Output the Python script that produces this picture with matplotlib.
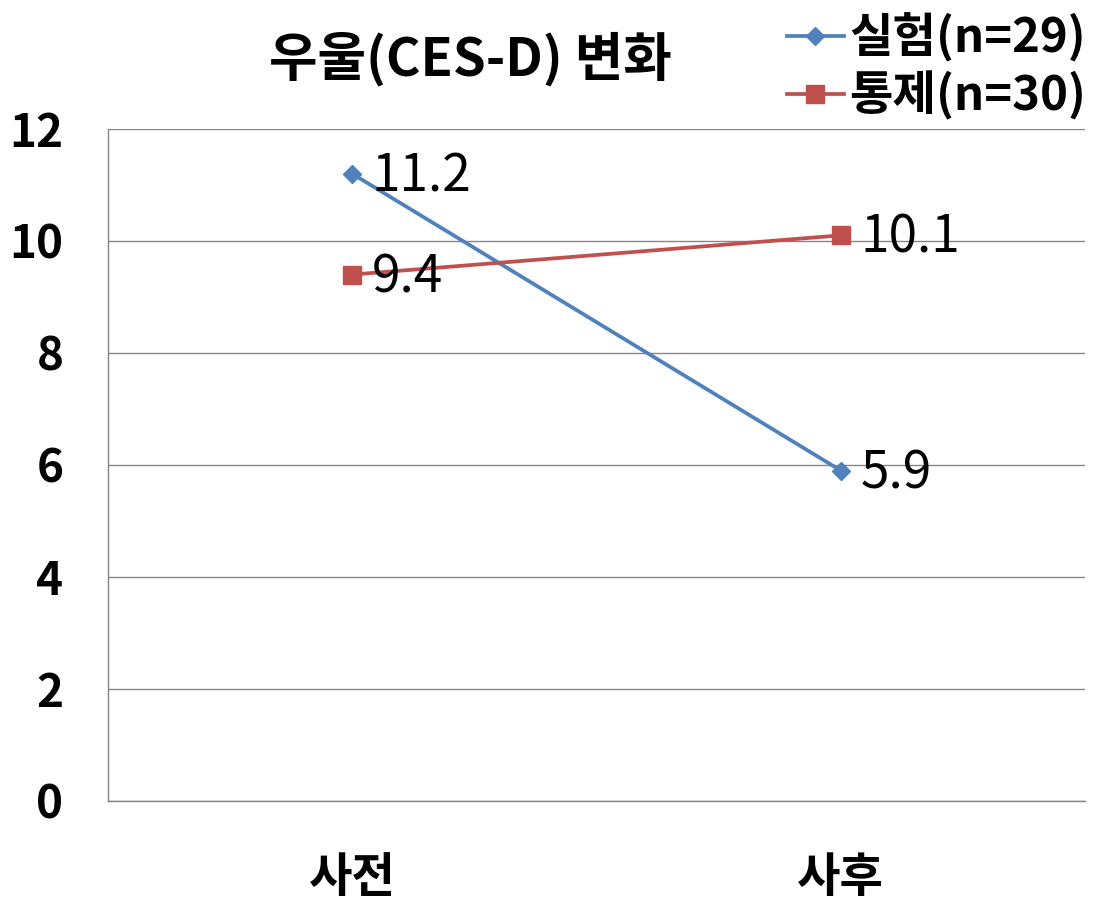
import numpy as np
import matplotlib.pyplot as plt

plt.rcParams['font.family'] = ['Noto Sans CJK KR', 'DejaVu Sans']

# data
categories = ["사전", "사후"]
exp_values = [11.2, 5.9]
ctrl_values = [9.4, 10.1]
exp_label = "실험(n=29)"
ctrl_label = "통제(n=30)"
y_ticks = [0, 2, 4, 6, 8, 10, 12]

fig = plt.figure(figsize=(11.01, 9.05), dpi=100)
ax = fig.add_axes([0.098, 0.115, 0.8875, 0.7425])

x = np.arange(len(categories))
ax.plot(x, exp_values, color="#4F81BD", lw=2.7, marker="D", ms=9,
        label=exp_label, zorder=3)
ax.plot(x, ctrl_values, color="#C0504D", lw=2.7, marker="s", ms=13,
        label=ctrl_label, zorder=3)

for xi, v in zip(x, exp_values):
    ax.text(xi + 0.04, v - 0.05, f"{v:.1f}", fontsize=37, va="center", ha="left")
for xi, v in zip(x, ctrl_values):
    ax.text(xi + 0.04, v - 0.05, f"{v:.1f}", fontsize=37, va="center", ha="left")

ax.set_xlim(-0.5, 1.5)
ax.set_ylim(0, 12)
ax.set_yticks(y_ticks)
ax.set_yticklabels([str(t) for t in y_ticks], fontsize=33, fontweight="bold")
ax.set_xticks(x)
ax.set_xticklabels(categories, fontsize=34, fontweight="bold")
ax.tick_params(axis="both", length=0)
ax.tick_params(axis="y", pad=32)
ax.tick_params(axis="x", pad=38)

ax.grid(axis="y", color="#868686", lw=1)
ax.set_axisbelow(True)
for s in ["top", "right"]:
    ax.spines[s].set_visible(False)
for s in ["left", "bottom"]:
    ax.spines[s].set_color("#868686")
    ax.spines[s].set_linewidth(1)

fig.text(0.427, 0.935, "우울(CES-D) 변화", fontsize=38, fontweight="bold",
         ha="center", va="center")

fig.legend(loc="upper right", bbox_to_anchor=(1.008, 1.012), frameon=False,
           prop=dict(size=34, weight="bold"), handlelength=1.2,
           handletextpad=0.12, labelspacing=0.2, borderaxespad=0.1)

fig.savefig("out.png", dpi=100)
